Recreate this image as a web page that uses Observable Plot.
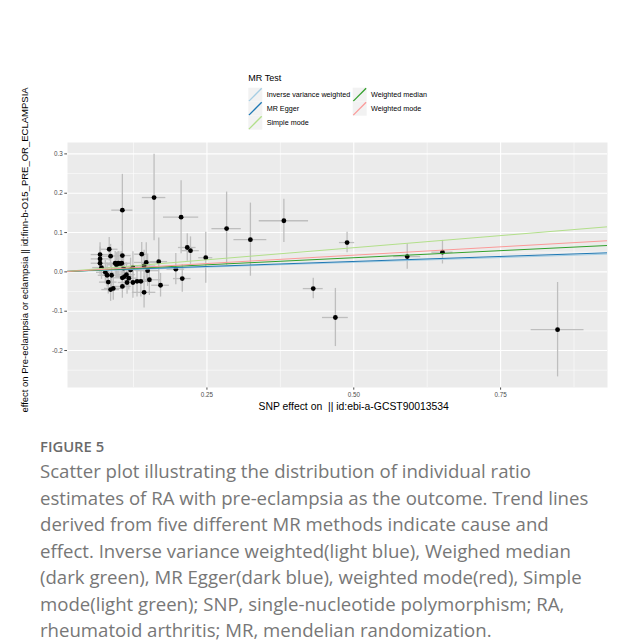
<!DOCTYPE html>
<html><head><meta charset="utf-8">
<script src="https://cdn.jsdelivr.net/npm/d3@7"></script>
<script src="https://cdn.jsdelivr.net/npm/@observablehq/plot@0.6"></script>
<style>
html,body{margin:0;padding:0;background:#fff}
body{width:617px;height:641px;overflow:hidden;position:relative;font-family:"Liberation Sans",Arial,sans-serif}
#chart{position:absolute;left:0;top:0}
#caption{position:absolute;left:40px;top:434px;width:577px;font-family:"Open Sans",sans-serif;color:#777;white-space:nowrap}
#caption .fig{font-size:14.8px;font-weight:600;color:#6a6a6a;line-height:24px}
#caption .txt{font-size:18.6px;line-height:26.5px}
</style></head><body>
<div id="chart"></div>
<div id="caption"><div class="fig">FIGURE 5</div><div class="txt">Scatter plot illustrating the distribution of individual ratio<br>estimates of RA with pre-eclampsia as the outcome. Trend lines<br>derived from five different MR methods indicate cause and<br>effect. Inverse variance weighted(light blue), Weighed median<br>(dark green), MR Egger(dark blue), weighted mode(red), Simple<br>mode(light green); SNP, single-nucleotide polymorphism; RA,<br>rheumatoid arthritis; MR, mendelian randomization.</div></div>
<script>
const methods = ["Inverse variance weighted", "MR Egger", "Simple mode", "Weighted median", "Weighted mode"];
const methodColors = ["#a6cee3", "#1f78b4", "#b2df8a", "#33a02c", "#fb9a99"];
const slopes = [0.0485, 0.051, 0.123, 0.072, 0.085];
const intercepts = [0, 0.001, 0, 0, 0];

const snpX = [0.381, 0.324, 0.4886, 0.431, 0.4687, 0.591, 0.651, 0.847, 0.2835, 0.206, 0.160, 0.106,
  0.2165, 0.222, 0.248, 0.208, 0.197, 0.171, 0.168, 0.1467, 0.139, 0.143, 0.152, 0.149, 0.1375, 0.131, 0.124, 0.124, 0.143,
  0.068, 0.068, 0.068, 0.0705, 0.0836, 0.086, 0.077, 0.080, 0.0876, 0.082, 0.086, 0.0905,
  0.0938, 0.097, 0.099, 0.102, 0.105, 0.096, 0.106, 0.106, 0.106, 0.1097, 0.113, 0.117, 0.114, 0.108, 0.120];
const snpY = [0.130, 0.082, 0.0746, -0.0425, -0.116, 0.039, 0.050, -0.147, 0.110, 0.139, 0.189, 0.157,
  0.062, 0.054, 0.036, -0.017, 0.007, -0.034, 0.026, 0.024, 0.045, -0.052, -0.020, 0.003, -0.024, -0.024, -0.027, 0.011, 0.015,
  0.044, 0.033, 0.022, 0.011, 0.0575, 0.040, -0.001, -0.0086, -0.0086, -0.026, -0.045, -0.042,
  0.022, 0.020, 0.022, 0.021, 0.022, 0.018, 0.0415, -0.037, -0.015, -0.012, -0.007, -0.016, -0.027, 0.009, 0.005];
const snpSeX = [0.042, 0.028, 0.013, 0.017, 0.022, 0.023, 0.018, 0.045, 0.025, 0.030, 0.020, 0.018,
  0.015, 0.015, 0.012, 0.015, 0.015, 0.015, 0.015, 0.020, 0.012, 0.020, 0.020, 0.020, 0.020, 0.020, 0.020, 0.020, 0.020,
  0.015, 0.015, 0.015, 0.015, 0.015, 0.015, 0.015, 0.015, 0.015, 0.015, 0.015, 0.015,
  0.015, 0.015, 0.015, 0.015, 0.015, 0.015, 0.015, 0.015, 0.015, 0.015, 0.015, 0.015, 0.015, 0.015, 0.015];
const snpSeY = [0.055, 0.093, 0.026, 0.026, 0.074, 0.032, 0.030, 0.120, 0.093, 0.093, 0.110, 0.091,
  0.035, 0.035, 0.065, 0.035, 0.040, 0.030, 0.060, 0.050, 0.030, 0.040, 0.040, 0.040, 0.040, 0.040, 0.040, 0.040, 0.040,
  0.030, 0.030, 0.030, 0.030, 0.030, 0.030, 0.030, 0.030, 0.030, 0.030, 0.030, 0.030,
  0.030, 0.030, 0.030, 0.030, 0.030, 0.030, 0.030, 0.030, 0.030, 0.030, 0.030, 0.030, 0.030, 0.030, 0.030];

const xTicks = [0.25, 0.5, 0.75];
const xMinor = [0.125, 0.375, 0.625, 0.875];
const yTicks = [-0.2, -0.1, 0, 0.1, 0.2, 0.3];
const yMinor = [-0.25, -0.15, -0.05, 0.05, 0.15, 0.25];
const xDomain = [0.0126, 0.932];
const yDomain = [-0.294, 0.329];
const xTitle = "SNP effect on  || id:ebi-a-GCST90013534";
const yTitle = "SNP effect on Pre-eclampsia or eclampsia || id:finn-b-O15_PRE_OR_ECLAMPSIA";
const legendTitle = "MR Test";

const snps = snpX.map((x, i) => ({x, y: snpY[i], sex: snpSeX[i], sey: snpSeY[i]}));
const lineData = methods.flatMap((m, i) => xDomain.map(x => ({method: m, x, y: intercepts[i] + slopes[i] * x})));

const W = 617, H = 412, ML = 67, MR = 10, MT = 142, MB = 25;
const plot = Plot.plot({
  width: W, height: H,
  marginLeft: ML, marginRight: MR, marginTop: MT, marginBottom: MB,
  style: {fontFamily: "'Liberation Sans', Arial, sans-serif", fontSize: "6.3px", color: "#4d4d4d", background: "white", overflow: "hidden"},
  x: {domain: xDomain, ticks: xTicks, tickFormat: d3.format(".2f"), tickSize: 2.7, tickPadding: 2.5, label: null},
  y: {domain: yDomain, ticks: yTicks, tickFormat: d => d3.format(".1f")(d).replace("\u2212", "-"), tickSize: 2.7, tickPadding: 2, label: null},
  color: {domain: methods, range: methodColors},
  marks: [
    Plot.frame({fill: "#ebebeb", stroke: "none"}),
    Plot.ruleY(yMinor, {stroke: "white", strokeWidth: 0.55}),
    Plot.ruleX(xMinor, {stroke: "white", strokeWidth: 0.55}),
    Plot.ruleY(yTicks, {stroke: "white", strokeWidth: 1.1}),
    Plot.ruleX(xTicks, {stroke: "white", strokeWidth: 1.1}),
    Plot.ruleY(snps, {y: "y", x1: d => d.x - d.sex, x2: d => d.x + d.sex, stroke: "#bebebe", strokeWidth: 1.3, clip: true}),
    Plot.ruleX(snps, {x: "x", y1: d => d.y - d.sey, y2: d => d.y + d.sey, stroke: "#bebebe", strokeWidth: 1.3, clip: true}),
    Plot.dot(snps, {x: "x", y: "y", r: 2.4, fill: "black", stroke: "none"}),
    Plot.line(lineData, {x: "x", y: "y", z: "method", stroke: "method", strokeWidth: 1, clip: true})
  ]
});
document.getElementById("chart").appendChild(plot);

const svg = d3.select(plot);
const font = "'Liberation Sans', Arial, sans-serif";
// axis titles
svg.append("text").attr("x", 353.7).attr("y", 409.5).attr("text-anchor", "middle")
  .attr("font-family", font).attr("font-size", 10.4).attr("fill", "black").text(xTitle);
svg.append("text").attr("transform", "translate(28,261) rotate(-90)").attr("text-anchor", "middle")
  .attr("font-family", font).attr("font-size", 9.5).attr("fill", "black").text(yTitle);
// legend
const lg = svg.append("g").attr("font-family", font).attr("text-anchor", "start");
lg.append("text").attr("x", 248.3).attr("y", 80.5).attr("font-size", 9).attr("fill", "black").attr("text-anchor", "start").text(legendTitle);
methods.forEach((m, i) => {
  const col = i < 3 ? 0 : 1, row = i < 3 ? i : i - 3;
  const kx = col === 0 ? 248.3 : 352.7, ky = 87.7 + row * 14;
  lg.append("rect").attr("x", kx).attr("y", ky).attr("width", 14).attr("height", 14).attr("fill", "#f2f2f2");
  lg.append("line").attr("x1", kx + 0.6).attr("y1", ky + 13.4).attr("x2", kx + 13.4).attr("y2", ky + 0.6)
    .attr("stroke", methodColors[i]).attr("stroke-width", 1.3);
  lg.append("text").attr("x", kx + 18.4).attr("y", ky + 9.6).attr("font-size", 7.2).attr("fill", "black")
    .attr("text-anchor", "start").text(m);
});
</script>
</body></html>
